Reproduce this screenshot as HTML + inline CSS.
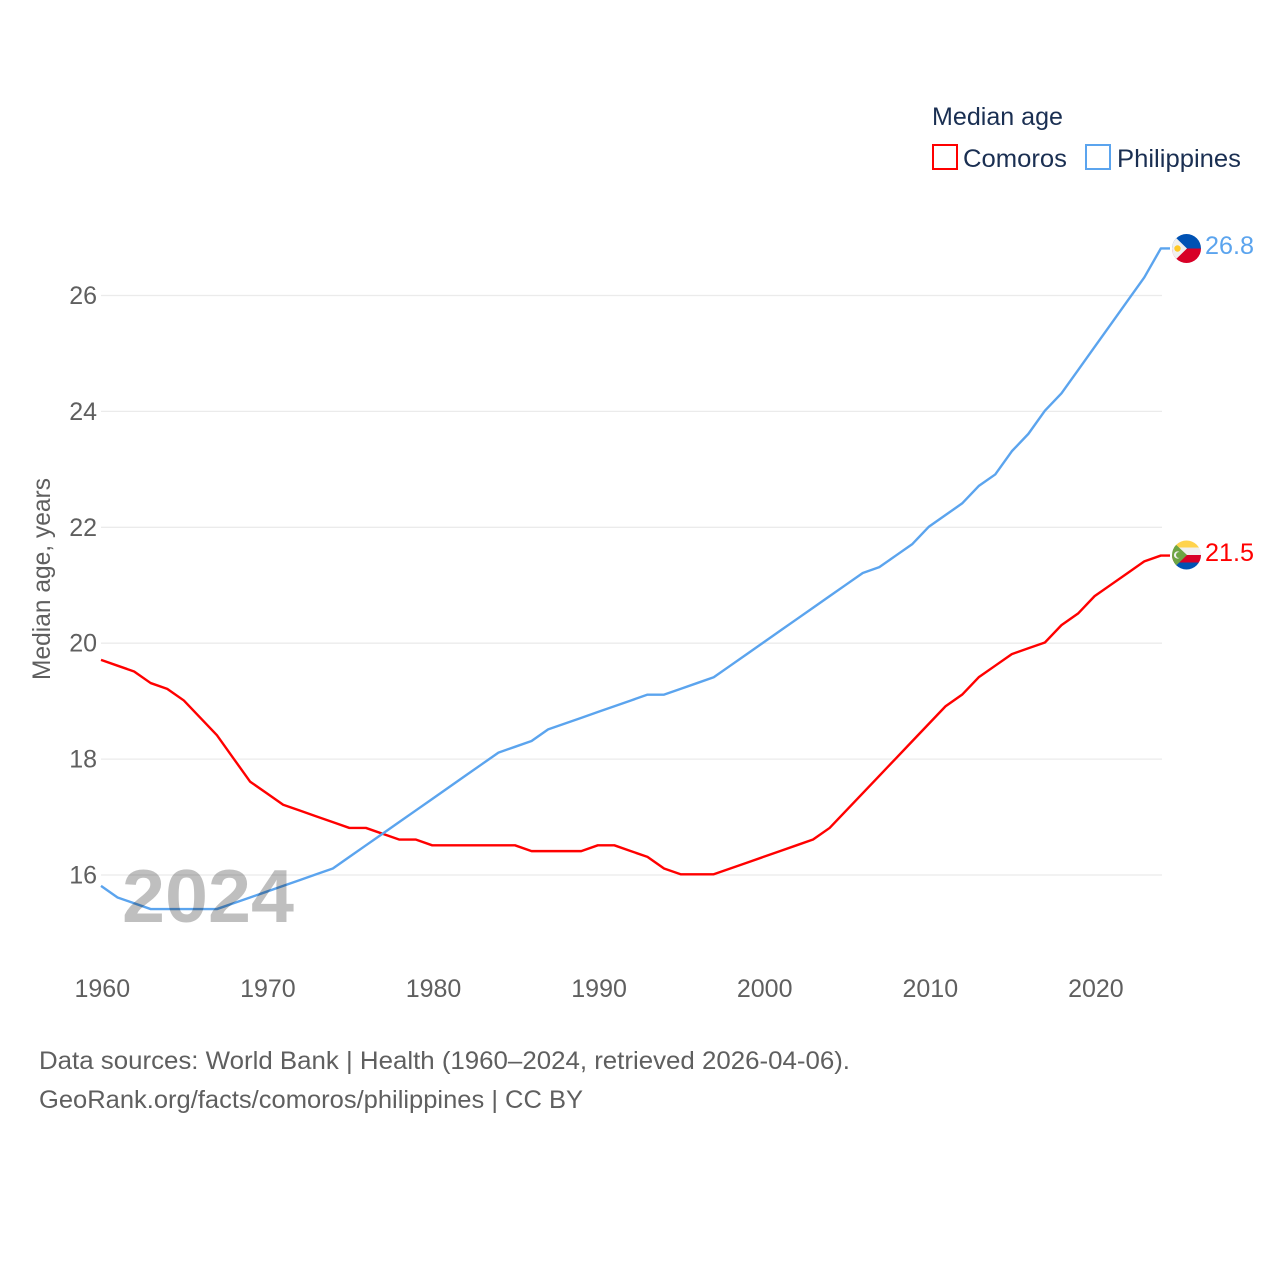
<!DOCTYPE html>
<html>
<head>
<meta charset="utf-8">
<style>
html,body{margin:0;padding:0;background:#fff}
svg{display:block}
text{font-family:"Liberation Sans",sans-serif;font-size:25px}
.muted{fill:#5f5f5f}
.navy{fill:#1a2f52}
</style>
</head>
<body>
<svg id="chart" xmlns="http://www.w3.org/2000/svg" width="1280" height="1280" viewBox="0 0 1280 1280">
  <defs>
    <clipPath id="clip-ph"><circle cx="1186.5" cy="248.5" r="14.5"/></clipPath>
    <clipPath id="clip-km"><circle cx="1186.5" cy="555" r="14.5"/></clipPath>
    <clipPath id="clip-year"><rect x="100" y="850" width="220" height="73"/></clipPath>
  </defs>
  <rect x="0" y="0" width="1280" height="1280" fill="#fff"/>
  <g id="grid"></g>
  <g id="yticks"></g>
  <g id="xticks"></g>
  <text class="muted" transform="translate(50,680) rotate(-90)" textLength="202" lengthAdjust="spacingAndGlyphs">Median age, years</text>
  <path id="line-comoros" fill="none" stroke="#ff0000" stroke-width="2.4" stroke-linejoin="round"/>
  <path id="line-philippines" fill="none" stroke="#5ba4ee" stroke-width="2.4" stroke-linejoin="round"/>
  <text id="year-label" clip-path="url(#clip-year)" x="122" y="922" textLength="172" lengthAdjust="spacingAndGlyphs" style="font-size:75px;font-weight:bold" fill="#000" fill-opacity="0.25">2024</text>

  <g>
    <text class="navy" x="932" y="125" textLength="131" lengthAdjust="spacingAndGlyphs">Median age</text>
    <g>
      <rect x="933" y="145" width="24" height="24" fill="#fff" stroke="#ff0000" stroke-width="2"/>
      <text class="navy" x="963" y="167" textLength="104" lengthAdjust="spacingAndGlyphs">Comoros</text>
    </g>
    <g>
      <rect x="1086" y="145" width="24" height="24" fill="#fff" stroke="#5ba4ee" stroke-width="2"/>
      <text class="navy" x="1117" y="167" textLength="124" lengthAdjust="spacingAndGlyphs">Philippines</text>
    </g>
  </g>

  <g clip-path="url(#clip-ph)">
    <rect x="1172" y="233" width="30" height="15.5" fill="#0052b4"/>
    <rect x="1172" y="248.5" width="30" height="15.5" fill="#d80027"/>
    <polygon points="1171,233 1187,248.5 1171,264" fill="#f0f0f0"/>
    <circle cx="1177.5" cy="248.5" r="3.2" fill="#ffc928"/>
  </g>
  <g clip-path="url(#clip-km)">
    <rect x="1172" y="540" width="30" height="8" fill="#ffd34d"/>
    <rect x="1172" y="547.5" width="30" height="7.5" fill="#f0f0f0"/>
    <rect x="1172" y="555" width="30" height="7.5" fill="#d80027"/>
    <rect x="1172" y="562.5" width="30" height="8" fill="#0052b4"/>
    <polygon points="1171,540 1187,555 1171,570.5" fill="#6da544"/>
    <circle cx="1177.5" cy="555" r="3.6" fill="#f0f0f0"/>
    <circle cx="1179" cy="555" r="3" fill="#6da544"/>
  </g>

  <text x="1205" y="254" fill="#5ba4ee" textLength="49" lengthAdjust="spacingAndGlyphs">26.8</text>
  <text x="1205" y="561" fill="#ff0000" textLength="49" lengthAdjust="spacingAndGlyphs">21.5</text>

  <text class="muted" x="39" y="1069" textLength="811" lengthAdjust="spacingAndGlyphs">Data sources: World Bank | Health (1960–2024, retrieved 2026-04-06).</text>
  <text class="muted" x="39" y="1108" textLength="544" lengthAdjust="spacingAndGlyphs">GeoRank.org/facts/comoros/philippines | CC BY</text>
</svg>
<script>
var startYear = 1960;
var comoros = [19.7,19.6,19.5,19.3,19.2,19.0,18.7,18.4,18.0,17.6,17.4,17.2,17.1,17.0,16.9,16.8,16.8,16.7,16.6,16.6,16.5,16.5,16.5,16.5,16.5,16.5,16.4,16.4,16.4,16.4,16.5,16.5,16.4,16.3,16.1,16.0,16.0,16.0,16.1,16.2,16.3,16.4,16.5,16.6,16.8,17.1,17.4,17.7,18.0,18.3,18.6,18.9,19.1,19.4,19.6,19.8,19.9,20.0,20.3,20.5,20.8,21.0,21.2,21.4,21.5];
var philippines = [15.8,15.6,15.5,15.4,15.4,15.4,15.4,15.4,15.5,15.6,15.7,15.8,15.9,16.0,16.1,16.3,16.5,16.7,16.9,17.1,17.3,17.5,17.7,17.9,18.1,18.2,18.3,18.5,18.6,18.7,18.8,18.9,19.0,19.1,19.1,19.2,19.3,19.4,19.6,19.8,20.0,20.2,20.4,20.6,20.8,21.0,21.2,21.3,21.5,21.7,22.0,22.2,22.4,22.7,22.9,23.3,23.6,24.0,24.3,24.7,25.1,25.5,25.9,26.3,26.8];
var yTickValues = [16,18,20,22,24,26];
var xTickValues = [1960,1970,1980,1990,2000,2010,2020];

var NS = 'http://www.w3.org/2000/svg';
var connectorEndX = 1170;
function xScale(year){ return 101.8 + (year - 1960) * 16.56; }
function yScale(v){ return 875 - (v - 16) * 57.95; }
function linePath(values){
  var d = '';
  for (var i = 0; i < values.length; i++) {
    d += (i ? 'L' : 'M') + (xScale(startYear + i) - 0.8).toFixed(2) + ' ' + (yScale(values[i]) - 0.7).toFixed(2);
  }
  d += 'L' + connectorEndX + ' ' + (yScale(values[values.length - 1]) - 0.7).toFixed(2);
  return d;
}
document.getElementById('line-comoros').setAttribute('d', linePath(comoros));
document.getElementById('line-philippines').setAttribute('d', linePath(philippines));

var grid = document.getElementById('grid');
var yticks = document.getElementById('yticks');
yTickValues.forEach(function(v){
  var l = document.createElementNS(NS, 'line');
  
  
  l.setAttribute('x1', 101);
  l.setAttribute('x2', 1162);
  l.setAttribute('y1', yScale(v));
  l.setAttribute('y2', yScale(v));
  l.setAttribute('stroke', '#ebebeb');
  l.setAttribute('stroke-width', '1.3');
  grid.appendChild(l);
  var t = document.createElementNS(NS, 'text');
  
  
  t.setAttribute('class', 'muted');
  t.setAttribute('x', 97);
  t.setAttribute('y', yScale(v) + 8.5);
  t.setAttribute('text-anchor', 'end');
  t.textContent = v;
  yticks.appendChild(t);
});
var xticks = document.getElementById('xticks');
xTickValues.forEach(function(y){
  var t = document.createElementNS(NS, 'text');
  
  
  t.setAttribute('class', 'muted');
  t.setAttribute('x', xScale(y) + 0.5);
  t.setAttribute('y', 997);
  t.setAttribute('text-anchor', 'middle');
  t.textContent = y;
  xticks.appendChild(t);
});
</script>
</body>
</html>
